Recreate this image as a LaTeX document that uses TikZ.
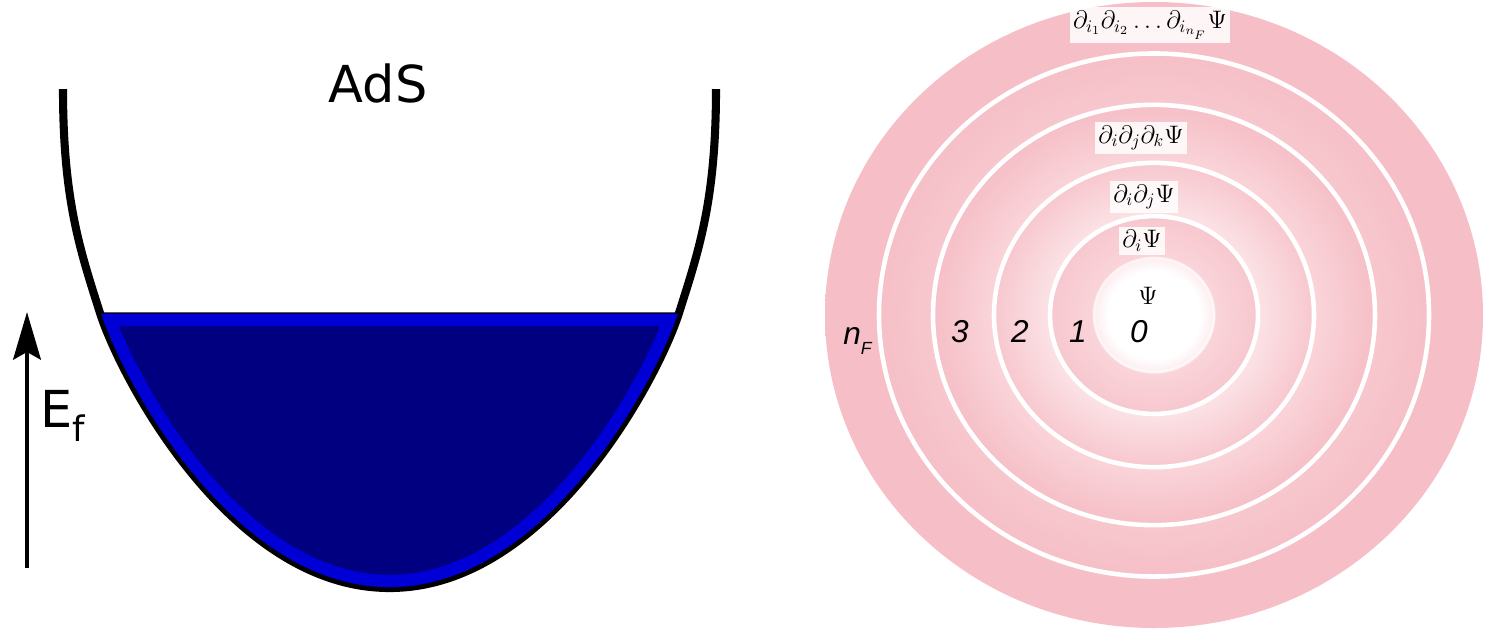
\documentclass[tikz,border=0pt]{standalone}
\usepackage{fontspec}
\newfontfamily\dejavu{DejaVu Sans}
\newfontfamily\arial{Liberation Sans}
\usetikzlibrary{arrows.meta}
\definecolor{navyfill}{RGB}{0,0,128}
\definecolor{bluerim}{RGB}{0,0,214}
\definecolor{pinkdark}{RGB}{246,191,199}
\definecolor{pinkmid}{RGB}{247,199,206}
\definecolor{pinksoft}{RGB}{249,212,217}
\definecolor{pinklight}{RGB}{251,226,229}
\definecolor{pinkedge}{RGB}{253,238,240}
\pgfdeclareradialshading{rings}{\pgfpoint{0bp}{0bp}}{%
  color(0bp)=(white); color(3.5bp)=(white); color(4.5bp)=(pinkedge);
  color(4.7bp)=(pinksoft); color(7.9bp)=(pinkmid);
  color(8bp)=(pinklight); color(12.2bp)=(pinkmid);
  color(12.3bp)=(pinksoft); color(16.8bp)=(pinkdark);
  color(17bp)=(pinkmid); color(20.9bp)=(pinkdark);
  color(25bp)=(pinkdark); color(50bp)=(pinkdark)}
\begin{document}
\begin{tikzpicture}[x=0.02cm, y=-0.02cm,
  ring/.style={white, line width=2.6pt},
  lbl/.style={fill=white, fill opacity=0.85, text opacity=1, inner sep=2pt,
    font=\fontsize{14}{16}\selectfont},
  num/.style={font=\arial\itshape\fontsize{18}{20}\selectfont, inner sep=0pt, anchor=base}]
\useasboundingbox (0,0) rectangle (1488,630);

% Buca AdS
\def\bowl{(100,313) .. controls (120,376) and (230,588) .. (389.5,588)
  .. controls (549,588) and (659,376) .. (679,313) -- cycle}
\coordinate (lt) at (63,89);
\coordinate (rt) at (716,89);
\draw[line width=4.6pt] (lt) .. controls (63,200) and (80,250) .. (100,313)
  .. controls (120,376) and (230,588) .. (389.5,588)
  .. controls (549,588) and (659,376) .. (679,313)
  .. controls (699,250) and (716,200) .. (rt);
\begin{scope}
  \clip \bowl;
  \fill[navyfill] \bowl;
  \draw[bluerim, line width=15pt] \bowl;
\end{scope}
\draw[line width=0.8pt] \bowl;
\node[font=\dejavu\fontsize{29}{32}\selectfont, anchor=base] (ads) at (378,102) {AdS};

% Livello di Fermi
\coordinate (efbot) at (27,568);
\coordinate (eftop) at (27,312);
\draw[line width=2.8pt, -{Stealth[length=0.95cm, width=0.55cm, inset=0.15cm]}] (efbot) -- (eftop);
\node[font=\dejavu\fontsize{29}{32}\selectfont, anchor=base west, inner sep=0pt] (ef) at (40,427)
  {E\raisebox{-8.5pt}{\fontsize{20}{20}\selectfont f}};

% Anelli
\coordinate (c) at (1154,315);
\shade[shading=rings] (c) ellipse [x radius=329, y radius=313];
\draw[white, line width=1.5pt, opacity=0.6] (c) ellipse [x radius=60, y radius=57];
\foreach \r in {104,160,221,275}
  \draw[ring] (c) ellipse [x radius=\r, y radius=0.951*\r];

\node[lbl] (dn) at (1150,25) {$\partial_{i_1}\partial_{i_2}\ldots\partial_{i_{n_F}}\Psi$};
\node[lbl] (d3) at (1141,138) {$\partial_i\partial_j\partial_k\Psi$};
\node[lbl] (d2) at (1144,197) {$\partial_i\partial_j\Psi$};
\node[lbl] (d1) at (1142,241) {$\partial_i\Psi$};
\node[lbl] (d0) at (1148,296) {$\Psi$};

\node[num] (n0) at (1139,342) {0};
\node[num] (n1) at (1078,342) {1};
\node[num] (n2) at (1020,342) {2};
\node[num] (n3) at (960,342) {3};
\node[num, anchor=base west] (nf) at (843,344)
  {n\raisebox{-6pt}{\fontsize{10}{10}\selectfont F}};
\end{tikzpicture}
\end{document}
